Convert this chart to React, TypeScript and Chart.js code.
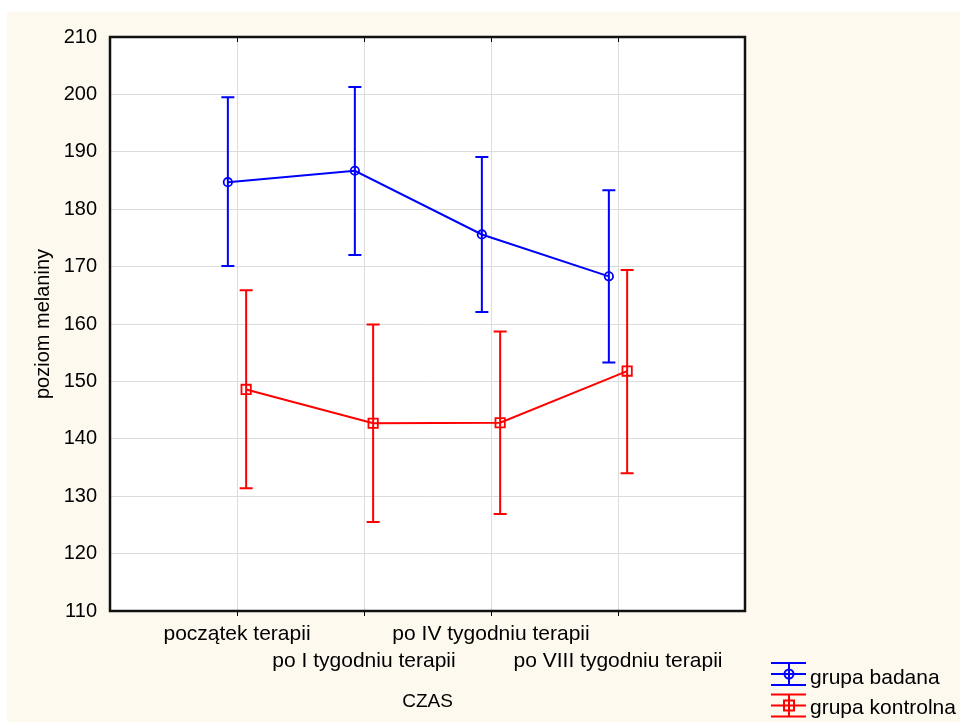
import React, { useEffect, useRef } from 'react';
import { Chart, registerables } from 'chart.js';

Chart.register(...registerables);

const categories = [
  'początek terapii',
  'po I tygodniu terapii',
  'po IV tygodniu terapii',
  'po VIII tygodniu terapii',
];
const seriesNames = ['grupa badana', 'grupa kontrolna'];
const badanaMean = [184.7, 186.7, 175.6, 168.3];
const badanaUpper = [199.5, 201.3, 189.1, 183.3];
const badanaLower = [170.1, 172.0, 162.1, 153.3];
const kontrolnaMean = [148.6, 142.7, 142.8, 151.8];
const kontrolnaUpper = [165.9, 159.9, 158.7, 169.4];
const kontrolnaLower = [131.4, 125.5, 126.9, 134.0];
const yMin = 110;
const yMax = 210;
const yStep = 10;
const xTitle = 'CZAS';
const yTitle = 'poziom melaniny';

const BLUE = '#0000ff';
const RED = '#ff0000';
const CREAM = '#fdf9ef';
const FONT = "'Liberation Sans', Arial, sans-serif";
const OFFSET = 0.072;

const backgroundPlugin = {
  id: 'bgPlugin',
  beforeDraw(chart: any) {
    const { ctx, chartArea } = chart;
    ctx.save();
    ctx.fillStyle = '#ffffff';
    ctx.fillRect(0, 0, chart.width, chart.height);
    ctx.fillStyle = CREAM;
    ctx.fillRect(7, 12, chart.width - 7, chart.height - 12);
    ctx.fillStyle = '#ffffff';
    ctx.fillRect(chartArea.left, chartArea.top, chartArea.right - chartArea.left, chartArea.bottom - chartArea.top);
    ctx.restore();
  },
};

const errorBarPlugin = {
  id: 'errorBars',
  afterDatasetsDraw(chart: any) {
    const { ctx } = chart;
    const xs = chart.scales.x;
    const ys = chart.scales.y;
    chart.data.datasets.forEach((ds: any, di: number) => {
      const meta = chart.getDatasetMeta(di);
      if (meta.hidden) return;
      ctx.save();
      ctx.strokeStyle = ds.borderColor;
      ctx.lineWidth = 2;
      ds.data.forEach((pt: any, i: number) => {
        const x = xs.getPixelForValue(pt.x);
        const yt = ys.getPixelForValue(ds.errHigh[i]);
        const yb = ys.getPixelForValue(ds.errLow[i]);
        ctx.beginPath();
        ctx.moveTo(x, yt);
        ctx.lineTo(x, yb);
        ctx.moveTo(x - 6.5, yt);
        ctx.lineTo(x + 6.5, yt);
        ctx.moveTo(x - 6.5, yb);
        ctx.lineTo(x + 6.5, yb);
        ctx.stroke();
      });
      ctx.restore();
    });
  },
};

const framePlugin = {
  id: 'framePlugin',
  afterDraw(chart: any) {
    const { ctx, chartArea } = chart;
    const xs = chart.scales.x;
    ctx.save();
    // inner ticks along the top edge
    ctx.strokeStyle = '#000';
    ctx.lineWidth = 1;
    categories.forEach((_, i) => {
      const x = Math.round(xs.getPixelForValue(i + 1)) + 0.5;
      ctx.beginPath();
      ctx.moveTo(x, chartArea.top);
      ctx.lineTo(x, chartArea.top + 5);
      ctx.stroke();
    });
    // frame
    ctx.lineWidth = 2.5;
    ctx.strokeStyle = '#111';
    ctx.strokeRect(chartArea.left, chartArea.top, chartArea.right - chartArea.left, chartArea.bottom - chartArea.top);

    // legend
    const items = [
      { name: seriesNames[0], color: BLUE, marker: 'circle', cy: 674, base: 684 },
      { name: seriesNames[1], color: RED, marker: 'rect', cy: 705.5, base: 714 },
    ];
    items.forEach((it) => {
      ctx.strokeStyle = it.color;
      ctx.lineWidth = 2;
      const x0 = 771;
      const x1 = 806;
      const xc = 789;
      ctx.beginPath();
      [-11, 0, 11].forEach((d) => {
        ctx.moveTo(x0, it.cy + d);
        ctx.lineTo(x1, it.cy + d);
      });
      ctx.moveTo(xc, it.cy - 11);
      ctx.lineTo(xc, it.cy + 11);
      ctx.stroke();
      ctx.beginPath();
      if (it.marker === 'circle') {
        ctx.arc(xc, it.cy, 4.5, 0, Math.PI * 2);
      } else {
        ctx.rect(xc - 5, it.cy - 5, 10, 10);
      }
      ctx.stroke();
      ctx.fillStyle = '#000';
      ctx.font = `21px ${FONT}`;
      ctx.textAlign = 'left';
      ctx.textBaseline = 'alphabetic';
      ctx.fillText(it.name, 810, it.base);
    });
    ctx.restore();
  },
};

export default function App() {
  const ref = useRef<HTMLCanvasElement | null>(null);

  useEffect(() => {
    if (!ref.current) return;
    const chart = new Chart(ref.current, {
      type: 'line',
      data: {
        datasets: [
          {
            label: seriesNames[0],
            data: badanaMean.map((v, i) => ({ x: i + 1 - OFFSET, y: v })),
            errHigh: badanaUpper,
            errLow: badanaLower,
            borderColor: BLUE,
            backgroundColor: 'rgba(0,0,0,0)',
            borderWidth: 2,
            pointStyle: 'circle',
            pointRadius: 4.2,
            pointBorderWidth: 1.8,
            pointBorderColor: BLUE,
            pointBackgroundColor: 'rgba(0,0,0,0)',
            tension: 0,
          } as any,
          {
            label: seriesNames[1],
            data: kontrolnaMean.map((v, i) => ({ x: i + 1 + OFFSET, y: v })),
            errHigh: kontrolnaUpper,
            errLow: kontrolnaLower,
            borderColor: RED,
            backgroundColor: 'rgba(0,0,0,0)',
            borderWidth: 2,
            pointStyle: 'rect',
            pointRadius: 6.6,
            pointBorderWidth: 1.8,
            pointBorderColor: RED,
            pointBackgroundColor: 'rgba(0,0,0,0)',
            tension: 0,
          } as any,
        ],
      },
      options: {
        responsive: false,
        animation: false,
        devicePixelRatio: 1,
        layout: { padding: { left: 0, top: 37, right: 215, bottom: 0 } },
        plugins: {
          legend: { display: false },
          tooltip: { enabled: false },
        },
        scales: {
          x: {
            type: 'linear',
            min: 0,
            max: categories.length + 1,
            afterFit: (s: any) => {
              s.height = 111;
            },
            border: { display: false },
            grid: {
              color: (c: any) => (c.tick && c.tick.value >= 1 && c.tick.value <= categories.length ? '#dcdcdc' : 'rgba(0,0,0,0)'),
              tickColor: (c: any) => (c.tick && c.tick.value >= 1 && c.tick.value <= categories.length ? '#000' : 'rgba(0,0,0,0)'),
              tickLength: 5,
              lineWidth: 1,
            },
            ticks: {
              stepSize: 1,
              autoSkip: false,
              maxRotation: 0,
              minRotation: 0,
              padding: 4.5,
              color: '#000',
              font: { family: FONT, size: 21, lineHeight: 27 / 21 },
              callback: (v: any) => {
                const i = Math.round(Number(v)) - 1;
                if (i < 0 || i >= categories.length) return '';
                return i % 2 === 0 ? categories[i] : ['', categories[i]];
              },
            },
            title: {
              display: true,
              text: xTitle,
              color: '#000',
              font: { family: FONT, size: 19, lineHeight: 1.2 },
              padding: { top: 0, bottom: 8.6 },
            },
          },
          y: {
            type: 'linear',
            min: yMin,
            max: yMax,
            afterFit: (s: any) => {
              s.width = 110;
            },
            border: { display: false },
            grid: { color: '#dcdcdc', lineWidth: 1, drawTicks: false },
            ticks: {
              stepSize: yStep,
              padding: 13,
              color: '#000',
              font: { family: FONT, size: 20 },
            },
            title: {
              display: true,
              text: yTitle,
              color: '#000',
              font: { family: FONT, size: 20, lineHeight: 1.2 },
              padding: { top: 31, bottom: 0 },
            },
          },
        },
      } as any,
      plugins: [backgroundPlugin, errorBarPlugin, framePlugin],
    });
    return () => chart.destroy();
  }, []);

  return (
    <div style={{ position: 'fixed', left: 0, top: 0, width: 960, height: 722 }}>
      <canvas ref={ref} width={960} height={722} style={{ width: 960, height: 722, display: 'block' }} />
    </div>
  );
}
